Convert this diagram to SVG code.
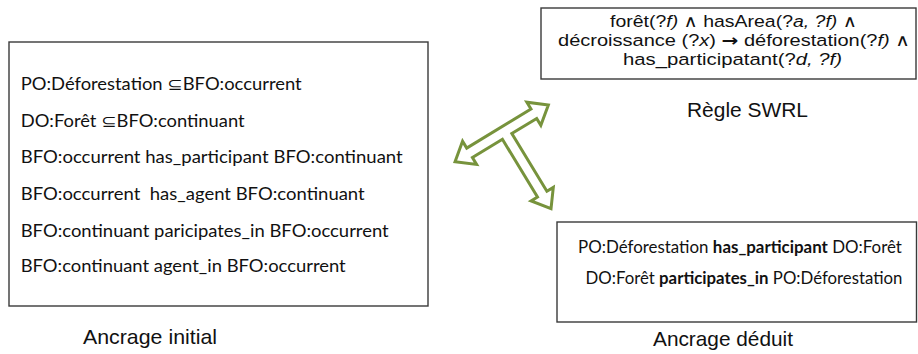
<svg xmlns="http://www.w3.org/2000/svg" width="918" height="354" viewBox="0 0 918 354">
<style>
.box{fill:#fff;stroke:#3a3a3a;stroke-width:1.4}
.c{font-family:Lato,"Liberation Sans","DejaVu Sans",sans-serif;font-size:16.5px;fill:#111;white-space:pre}
.s{font-family:"Liberation Sans","DejaVu Sans",sans-serif;font-size:16.8px;fill:#111;white-space:pre}
.lbl{font-family:"Liberation Sans",Arial,sans-serif;font-size:21px;fill:#111}
.i{font-style:italic}
.b{font-weight:bold}
.ar{font-family:"DejaVu Sans",sans-serif;font-weight:bold}
.arrow{fill:#fff;stroke:#77933C;stroke-width:3;stroke-linejoin:miter}
</style>
<rect width="918" height="354" fill="#fff"/>
<g id="ancrage-initial">
<rect class="box" x="9" y="42" width="419" height="264"/>
<text class="c" x="20.7" y="90" textLength="281" lengthAdjust="spacingAndGlyphs">PO:Déforestation ⊆BFO:occurrent</text>
<text class="c" x="20.7" y="127" textLength="224" lengthAdjust="spacingAndGlyphs">DO:Forêt ⊆BFO:continuant</text>
<text class="c" x="20.7" y="163" textLength="382" lengthAdjust="spacingAndGlyphs">BFO:occurrent has_participant BFO:continuant</text>
<text class="c" x="20.7" y="200" textLength="344" lengthAdjust="spacingAndGlyphs">BFO:occurrent  has_agent BFO:continuant</text>
<text class="c" x="20.7" y="237" textLength="368" lengthAdjust="spacingAndGlyphs">BFO:continuant paricipates_in BFO:occurrent</text>
<text class="c" x="20.7" y="272" textLength="325" lengthAdjust="spacingAndGlyphs">BFO:continuant agent_in BFO:occurrent</text>
<text class="lbl" x="83" y="344" textLength="134" lengthAdjust="spacingAndGlyphs">Ancrage initial</text>
</g>
<g id="regle-swrl">
<rect class="box" x="541" y="8" width="375" height="71"/>
<text class="s" x="610" y="26.5" textLength="247" lengthAdjust="spacingAndGlyphs">forêt(?<tspan class="i">f)</tspan> ∧ hasArea(?<tspan class="i">a, ?f)</tspan> ∧</text>
<text class="s" x="558" y="45.5" textLength="352" lengthAdjust="spacingAndGlyphs">décroissance (?<tspan class="i">x</tspan>) <tspan class="ar">→</tspan> déforestation(?<tspan class="i">f)</tspan> ∧</text>
<text class="s" x="623" y="64.5" textLength="219" lengthAdjust="spacingAndGlyphs">has_participatant(?<tspan class="i">d, ?f)</tspan></text>
<text class="lbl" x="687" y="117" textLength="121" lengthAdjust="spacingAndGlyphs">Règle SWRL</text>
</g>
<g id="ancrage-deduit">
<rect class="box" x="557" y="222" width="359.5" height="100"/>
<text class="c" x="740" y="253" text-anchor="middle" style="font-size:16.9px">PO:Déforestation <tspan class="b">has_participant</tspan> DO:Forêt</text>
<text class="c" x="744" y="284" text-anchor="middle" style="font-size:16.8px">DO:Forêt <tspan class="b">participates_in</tspan> PO:Déforestation</text>
<text class="lbl" x="653" y="346" textLength="140" lengthAdjust="spacingAndGlyphs">Ancrage déduit</text>
</g>
<g id="connectors">
<polygon class="arrow" transform="translate(501.7,133.3) rotate(-31.3)" points="-54.6,0 -37.6,-13.5 -37.6,-5.5 37.6,-5.5 37.6,-13.5 54.6,0 37.6,13.5 37.6,5.5 8.5,5.5 8.5,73 16,73 3,90 -10,73 -2.5,73 -2.5,5.5 -37.6,5.5 -37.6,13.5"/>
</g>
</svg>
